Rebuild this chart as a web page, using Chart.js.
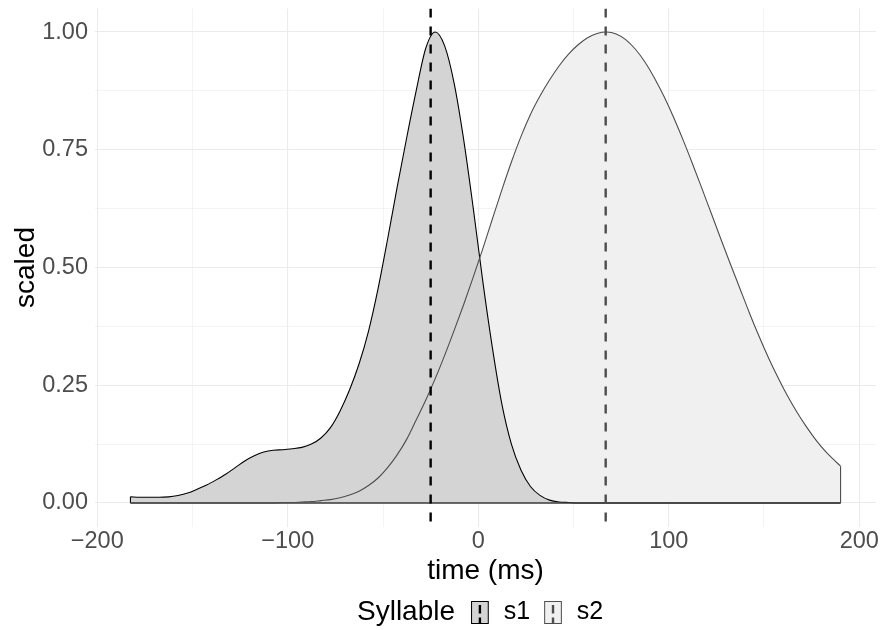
<!DOCTYPE html>
<html>
<head>
<meta charset="utf-8">
<script src="https://cdn.jsdelivr.net/npm/chart.js@4"></script>
<style>
  body { margin: 0; background: #fff; }
</style>
</head>
<body>
<canvas id="density" width="881" height="630"></canvas>
<script>
// time grid (ms) the densities were read at
const time = [-182.6, -177.6, -172.6, -167.6, -162.6, -157.6, -152.6, -147.6, -142.6, -137.6,
  -132.6, -127.6, -122.6, -117.6, -112.6, -107.6, -102.6, -97.6, -92.6, -87.6,
  -82.6, -77.6, -72.6, -67.6, -62.6, -57.6, -52.6, -47.6, -42.6, -37.6,
  -32.6, -27.6, -22.6, -17.6, -12.6, -7.6, -2.6, 2.4, 7.4, 12.4,
  17.4, 22.4, 27.4, 32.4, 37.4, 42.4, 47.4, 52.4, 57.4, 62.4,
  67.4, 72.4, 77.4, 82.4, 87.4, 92.4, 97.4, 102.4, 107.4, 112.4,
  117.4, 122.4, 127.4, 132.4, 137.4, 142.4, 147.4, 152.4, 157.4, 162.4,
  167.4, 172.4, 177.4, 182.4, 187.4, 190.2];

// scaled density, syllable s1
const s1 = [0.013, 0.012, 0.012, 0.012, 0.013, 0.016, 0.021, 0.029, 0.038, 0.049,
  0.061, 0.075, 0.089, 0.100, 0.108, 0.112, 0.113, 0.115, 0.118, 0.125,
  0.138, 0.160, 0.195, 0.240, 0.295, 0.365, 0.455, 0.560, 0.670, 0.775,
  0.875, 0.965, 1.000, 0.970, 0.890, 0.770, 0.625, 0.470, 0.330, 0.210,
  0.125, 0.070, 0.035, 0.016, 0.006, 0.002, 0.001, 0, 0, 0,
  0, 0, 0, 0, 0, 0, 0, 0, 0, 0,
  0, 0, 0, 0, 0, 0, 0, 0, 0, 0,
  0, 0, 0, 0, 0, 0];

// scaled density, syllable s2
const s2 = [0, 0, 0, 0, 0, 0, 0, 0, 0, 0,
  0, 0, 0, 0, 0, 0, 0.001, 0.001, 0.002, 0.003,
  0.005, 0.007, 0.011, 0.017, 0.025, 0.037, 0.053, 0.075, 0.102, 0.135,
  0.176, 0.218, 0.264, 0.314, 0.367, 0.422, 0.480, 0.540, 0.603, 0.665,
  0.724, 0.778, 0.825, 0.864, 0.898, 0.928, 0.953, 0.973, 0.988, 0.997,
  1.000, 0.996, 0.984, 0.964, 0.937, 0.903, 0.864, 0.820, 0.772, 0.721,
  0.668, 0.614, 0.560, 0.507, 0.455, 0.403, 0.354, 0.308, 0.266, 0.227,
  0.192, 0.161, 0.133, 0.109, 0.089, 0.078];

// mean time of each syllable (dashed lines)
const means = [-25.0, 66.9];
const syllables = ['s1', 's2'];
const legendTitle = 'Syllable';

const xMajor = [-200, -100, 0, 100, 200];
const xMinor = [-150, -50, 50, 150];
const yMajor = [0, 0.25, 0.5, 0.75, 1];
const yMinor = [0.125, 0.375, 0.625, 0.875];

const fills = ['#D4D4D4', '#F0F0F0'];
const lines = ['#000000', '#4D4D4D'];
const FONT = '"Liberation Sans", Arial, Helvetica, sans-serif';

function pts(ys) { return time.map((t, i) => ({ x: t, y: ys[i] })); }
const first = time[0], last = time[time.length - 1];

function vline(m, color) {
  return {
    data: [{ x: m, y: 1.05 }, { x: m, y: -0.05 }],
    borderColor: color, borderWidth: 2.4, borderDash: [9, 9],
    pointRadius: 0, fill: false, tension: 0
  };
}

const syllableLegend = {
  id: 'syllableLegend',
  afterDraw(chart) {
    const c = chart.ctx;
    const y = 612;
    c.save();
    c.font = '28px ' + FONT;
    c.fillStyle = '#000';
    c.textBaseline = 'middle';
    c.textAlign = 'left';
    let x = 357;
    c.fillText(legendTitle, x, y);
    x += c.measureText(legendTitle).width + 16;
    c.font = '25px ' + FONT;
    syllables.forEach((name, i) => {
      const kw = 17.7, kh = 23, top = y - 11;
      c.fillStyle = fills[i];
      c.fillRect(x, top, kw, kh);
      c.strokeStyle = lines[i];
      c.lineWidth = 1;
      c.strokeRect(x + 0.5, top + 0.5, kw - 1, kh - 1);
      c.beginPath();
      c.setLineDash([8.6, 4]);
      c.lineWidth = 2.4;
      c.moveTo(x + kw / 2, top + 4);
      c.lineTo(x + kw / 2, top + kh);
      c.stroke();
      c.setLineDash([]);
      x += kw + 15;
      c.fillStyle = '#000';
      c.fillText(name, x, y);
      x += c.measureText(name).width + 14;
    });
    c.restore();
  }
};

const tickFont = { family: FONT, size: 23.5 };
const titleFont = { family: FONT, size: 28 };

new Chart(document.getElementById('density'), {
  type: 'line',
  data: {
    datasets: [
      vline(means[1], lines[1]),
      vline(means[0], lines[0]),
      // s2 outline: curve, right edge, baseline
      { data: pts(s2), borderColor: lines[1], borderWidth: 1.1, pointRadius: 0, fill: false, cubicInterpolationMode: 'monotone' },
      { data: [{ x: last, y: 0 }, { x: last, y: s2[s2.length - 1] }], borderColor: lines[1], borderWidth: 1.1, pointRadius: 0, fill: false },
      { data: [{ x: first, y: 0 }, { x: last, y: 0 }], borderColor: '#3a3a3a', borderWidth: 1.6, pointRadius: 0, fill: false },
      // s1 filled curve with left edge
      { data: [{ x: first, y: 0 }, { x: first, y: s1[0] }], borderColor: lines[0], borderWidth: 1.1, pointRadius: 0, fill: false },
      { data: pts(s1), borderColor: lines[0], backgroundColor: fills[0], borderWidth: 1.1, pointRadius: 0, fill: 'origin', cubicInterpolationMode: 'monotone' },
      // s2 fill only
      { data: pts(s2), borderColor: 'rgba(0,0,0,0)', backgroundColor: fills[1], borderWidth: 0, pointRadius: 0, fill: 'origin', cubicInterpolationMode: 'monotone' }
    ]
  },
  options: {
    responsive: false,
    animation: false,
    layout: { padding: { top: 8.5, right: 5, left: 0, bottom: 42 } },
    plugins: { legend: { display: false }, tooltip: { enabled: false } },
    scales: {
      x: {
        type: 'linear', min: -201.2, max: 208.8,
        afterBuildTicks: s => { s.ticks = xMajor.concat(xMinor).sort((a, b) => a - b).map(v => ({ value: v })); },
        afterFit: s => { s.height = 61.5; s.paddingLeft = 0; s.paddingRight = 0; },
        border: { display: false },
        grid: {
          color: '#EBEBEB', drawTicks: false,
          lineWidth: c => (c.tick && xMinor.includes(c.tick.value)) ? 0.55 : 1.1
        },
        ticks: {
          autoSkip: false, maxRotation: 0, padding: 1, color: '#4D4D4D', font: tickFont,
          callback: v => xMajor.includes(v) ? String(v).replace('-', '\u2212') : ''
        },
        title: { display: true, text: 'time (ms)', color: '#000', font: titleFont, padding: { top: 0, bottom: 0 } }
      },
      y: {
        type: 'linear', min: -0.05, max: 1.05,
        afterBuildTicks: s => { s.ticks = yMajor.concat(yMinor).sort((a, b) => a - b).map(v => ({ value: v })); },
        afterFit: s => { s.width = 95; s.paddingTop = 0; s.paddingBottom = 0; },
        border: { display: false },
        grid: {
          color: '#EBEBEB', drawTicks: false,
          lineWidth: c => (c.tick && yMinor.includes(c.tick.value)) ? 0.55 : 1.1
        },
        ticks: {
          autoSkip: false, padding: 7, color: '#4D4D4D', font: tickFont,
          callback: v => yMajor.includes(v) ? v.toFixed(2) : ''
        },
        title: { display: true, text: 'scaled', color: '#000', font: titleFont, padding: { top: 9, bottom: 0 } }
      }
    }
  },
  plugins: [syllableLegend]
});
</script>
</body>
</html>
